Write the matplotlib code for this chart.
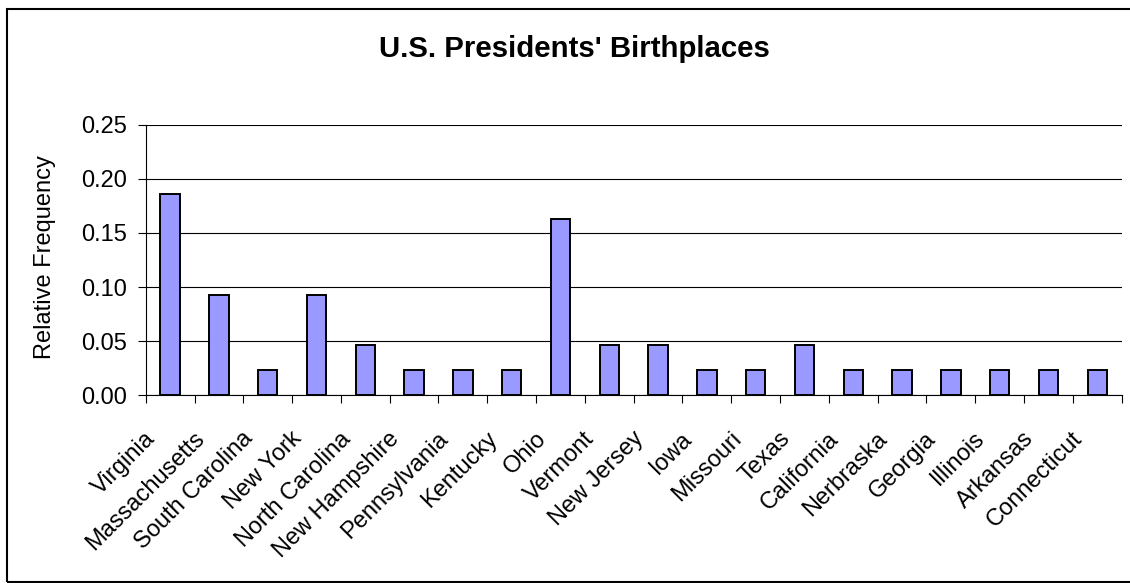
import matplotlib.pyplot as plt
from matplotlib.patches import Rectangle
from matplotlib.transforms import ScaledTranslation

# Birthplace of each president, as share of the 43 presidents
states = ["Virginia", "Massachusetts", "South Carolina", "New York", "North Carolina",
          "New Hampshire", "Pennsylvania", "Kentucky", "Ohio", "Vermont", "New Jersey",
          "Iowa", "Missouri", "Texas", "California", "Nerbraska", "Georgia", "Illinois",
          "Arkansas", "Connecticut"]
counts = [8, 4, 1, 4, 2, 1, 1, 1, 7, 2, 2, 1, 1, 2, 1, 1, 1, 1, 1, 1]
total = 43
rel_freq = [c / total for c in counts]
y_ticks = [0.00, 0.05, 0.10, 0.15, 0.20, 0.25]

plt.rcParams["font.family"] = ["Liberation Sans", "DejaVu Sans"]

W, H = 1130, 583
fig = plt.figure(figsize=(W / 100, H / 100), dpi=100)
ax = fig.add_axes([145.7 / W, 1 - 395.3 / H, 976 / W, 270.6 / H])

x = list(range(len(states)))
ax.bar(x, rel_freq, width=0.4, color="#9999FF", edgecolor="black", linewidth=1.4, zorder=3)

ax.set_xlim(-0.5, len(states) - 0.5)
ax.set_ylim(0, 0.25)
ax.set_yticks(y_ticks)
ax.set_yticklabels([f"{v:.2f}" for v in y_ticks], fontsize=17)
ax.yaxis.grid(True, color="black", linewidth=0.8, zorder=0)
ax.tick_params(axis="y", length=5.5, width=0.8, pad=8)

# ticks sit between the categories, labels at the centres
ax.set_xticks([i - 0.5 for i in range(len(states) + 1)])
ax.set_xticklabels([])
ax.tick_params(axis="x", length=5.8, width=0.8)
ax.set_xticks(x, minor=True)
ax.set_xticklabels(states, minor=True, rotation=45, ha="right", va="center",
                   rotation_mode="anchor", fontsize=17)
ax.tick_params(axis="x", which="minor", length=0, pad=29)
offset = ScaledTranslation(-0.18, 0, fig.dpi_scale_trans)
for lbl in ax.get_xticklabels(minor=True):
    lbl.set_transform(lbl.get_transform() + offset)

for side in ["top", "right"]:
    ax.spines[side].set_visible(False)
ax.spines["left"].set_linewidth(0.8)
ax.spines["bottom"].set_linewidth(0.8)

fig.text(45 / W, 1 - 257 / H, "Relative Frequency", rotation=90, ha="center", va="center",
         fontsize=17)
fig.text(574 / W, 1 - 57 / H, "U.S. Presidents' Birthplaces", ha="center", va="baseline",
         fontsize=21.2, fontweight="bold")

# chart border, running off the right edge
fig.patches.append(Rectangle((7.3 / W, 1.5 / H), 1150 / W, 573 / H,
                             transform=fig.transFigure, fill=False,
                             edgecolor="black", linewidth=1.5))

fig.savefig("out.png", dpi=100)
